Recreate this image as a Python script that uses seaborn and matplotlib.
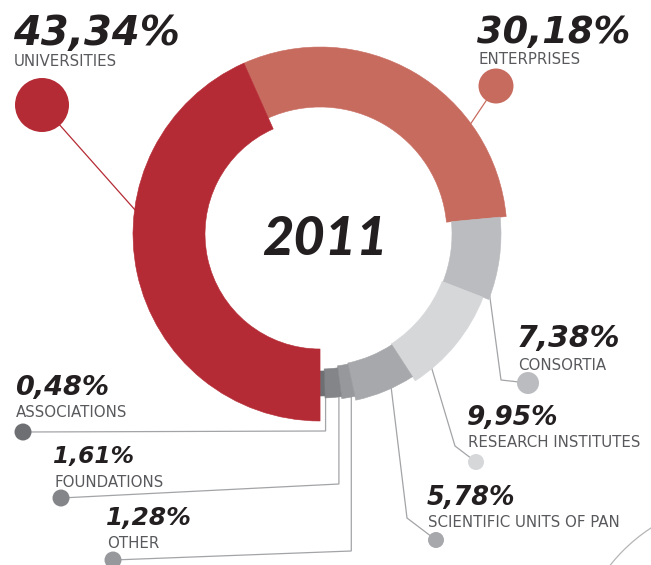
import matplotlib
matplotlib.use("Agg")
import matplotlib.pyplot as plt
from matplotlib.patches import Wedge, Arc
import numpy as np
import pandas as pd
import seaborn as sns

# --------------------------------------------------
# Data (clockwise order, starting at the top-left)
# --------------------------------------------------
categories = ["ENTERPRISES", "CONSORTIA", "RESEARCH INSTITUTES",
              "SCIENTIFIC UNITS OF PAN", "OTHER", "FOUNDATIONS",
              "ASSOCIATIONS", "UNIVERSITIES"]
shares = [30.18, 7.38, 9.95, 5.78, 1.28, 1.61, 0.48, 43.34]
year = "2011"

colors = ["#c86b5f", "#bbbcbf", "#d6d7d9", "#a7a8ab",
          "#97989b", "#848589", "#6e6f72", "#b52b35"]

# --------------------------------------------------
# Layout (pixels)
# --------------------------------------------------
W, H = 651, 565
cx, cy = 320, 234
start_angle = 114
ring = {  # outer, inner radius
    "ENTERPRISES": (187, 127), "CONSORTIA": (181, 132),
    "RESEARCH INSTITUTES": (175, 131), "SCIENTIFIC UNITS OF PAN": (170, 132),
    "OTHER": (166, 133), "FOUNDATIONS": (164, 135),
    "ASSOCIATIONS": (162, 137), "UNIVERSITIES": (187, 115),
}
# text x, number baseline, name baseline, number size (pt)
text_pos = {
    "UNIVERSITIES": (13, 45, 66, 28.8),
    "ENTERPRISES": (477, 43, 64, 26.5),
    "CONSORTIA": (517, 347, 370, 21.5),
    "RESEARCH INSTITUTES": (467, 425, 447, 19),
    "SCIENTIFIC UNITS OF PAN": (427, 505, 527, 18.4),
    "ASSOCIATIONS": (15, 395, 417, 19.5),
    "FOUNDATIONS": (53, 463, 487, 16.8),
    "OTHER": (106, 525, 548, 17.8),
}
# leader: anchor angle on ring, elbow points (None x = straight down), dot, dot radius
leaders = {
    "UNIVERSITIES": (173, [], (42, 105), 27),
    "ENTERPRISES": (36, [], (496, 86), 17.5),
    "CONSORTIA": (-19, [(501, 380)], (528, 383), 11),
    "RESEARCH INSTITUTES": (-50, [(455, 446)], (476, 462), 8),
    "SCIENTIFIC UNITS OF PAN": (-65, [(407, 518)], (436, 540), 8),
    "OTHER": (-79, [(None, 551)], (113, 560), 8.5),
    "FOUNDATIONS": (-83.3, [(None, 484)], (61, 498), 8.5),
    "ASSOCIATIONS": (-88, [(None, 431)], (23, 432), 8.5),
}

sns.set_theme(style="white")

fig = plt.figure(figsize=(W / 100, H / 100), dpi=100)
ax = fig.add_axes([0, 0, 1, 1])


def pt(theta, r):
    t = np.deg2rad(theta)
    return cx + r * np.cos(t), cy - r * np.sin(t)


# donut segments
theta = start_angle
for cat, v, col in zip(categories, shares, colors):
    span = v * 3.6
    r_out, r_in = ring[cat]
    ax.add_patch(Wedge((cx, cy), r_out, -theta, -(theta - span),
                       width=r_out - r_in, facecolor=col, edgecolor=col,
                       linewidth=0.4, zorder=2))
    theta -= span

# leader lines
color_of = dict(zip(categories, colors))
dots = []
for cat, (ang, elbows, dot, rad) in leaders.items():
    sx, sy = pt(ang, ring[cat][0] - 2)
    xs, ys = [sx], [sy]
    for ex, ey in elbows:
        xs.append(sx if ex is None else ex)
        ys.append(ey)
    xs.append(dot[0])
    ys.append(dot[1])
    lc = color_of[cat] if cat in ("UNIVERSITIES", "ENTERPRISES") else "#a3a4a7"
    ax.plot(xs, ys, color=lc, lw=0.9, zorder=1, solid_joinstyle="miter")
    dots.append({"cat": cat, "x": dot[0], "y": dot[1],
                 "s": (2 * rad * 0.72) ** 2})

dots = pd.DataFrame(dots)
sns.scatterplot(data=dots, x="x", y="y", hue="cat", palette=color_of,
                s=dots["s"].tolist(), linewidth=0, legend=False, ax=ax, zorder=3)
ax.set_xlim(0, W)
ax.set_ylim(H, 0)
ax.axis("off")

# labels
for cat, v in zip(categories, shares):
    x, yb, yn, size = text_pos[cat]
    ax.text(x, yb, f"{v:.2f}".replace(".", ",") + "%", fontsize=size,
            family="DejaVu Sans", fontweight="bold", fontstyle="italic",
            color="#231f20", va="baseline", ha="left")
    ax.text(x + 1, yn, cat, fontsize=10.8, family="DejaVu Sans",
            color="#58595c", va="baseline", ha="left")

ax.text(cx + 5, 255, year, fontsize=39, family=["Lato", "DejaVu Sans"],
        fontweight="black", fontstyle="italic", color="#231f20",
        va="baseline", ha="center")

# decorative arc, bottom right
ax.add_patch(Arc((745, 672), 344, 344, theta1=180, theta2=270,
                 color="#b5b6b8", lw=0.9))

fig.savefig("out.png", dpi=100)
